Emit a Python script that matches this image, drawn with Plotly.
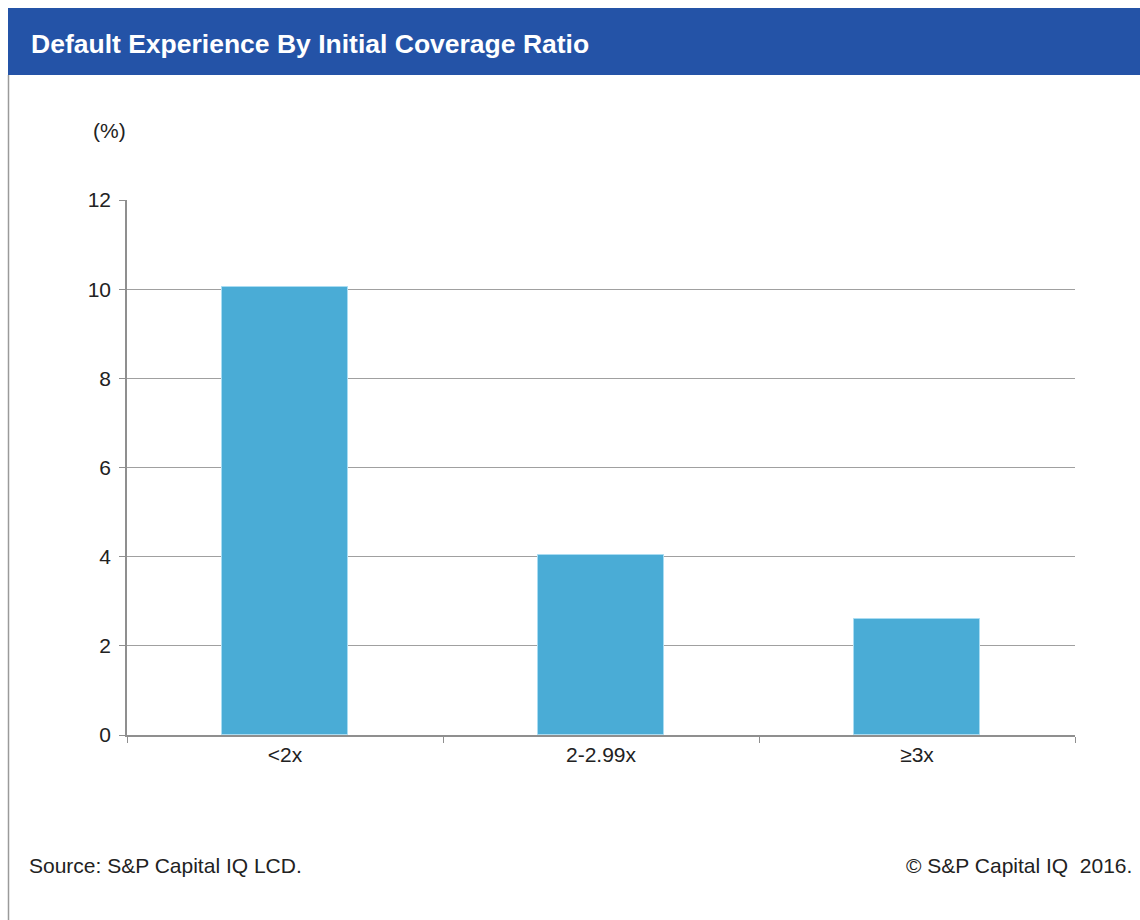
import plotly.graph_objects as go

# Default rates by initial coverage ratio bucket
categories = ["<2x", "2-2.99x", "≥3x"]
default_rate = [10.05, 4.04, 2.6]
y_ticks = [0, 2, 4, 6, 8, 10, 12]

W, H = 1140, 920
ML, MR, MT, MB = 127, 65, 200, 185
PW, PH = W - ML - MR, H - MT - MB


def px(x):
    return (x - ML) / PW


def py(y):
    return (H - MB - y) / PH


FONT = "Liberation Sans, Arial, sans-serif"
GRID = "#a0a0a0"
AXIS = "#8f8f8f"

fig = go.Figure(
    go.Bar(
        x=categories,
        y=default_rate,
        width=0.4,
        marker=dict(color="#4aacd6", line=dict(color="#a9dcf2", width=1)),
    )
)

fig.update_layout(
    width=W,
    height=H,
    margin=dict(l=ML, r=MR, t=MT, b=MB),
    paper_bgcolor="white",
    plot_bgcolor="white",
    showlegend=False,
    font=dict(family=FONT, size=21, color="#222222"),
    bargap=0,
    xaxis=dict(
        type="category",
        range=[-0.5, 2.5],
        tickson="boundaries",
        ticks="outside",
        ticklen=6,
        tickcolor=AXIS,
        showline=True,
        linecolor=AXIS,
        linewidth=1.5,
        showgrid=False,
        tickfont=dict(size=21, color="#222222"),
        fixedrange=True,
    ),
    yaxis=dict(
        range=[0, 12],
        tickvals=y_ticks,
        ticks="outside",
        ticklen=6,
        tickcolor=AXIS,
        showline=True,
        linecolor=AXIS,
        linewidth=1.5,
        showgrid=True,
        gridcolor=GRID,
        gridwidth=1.3,
        zeroline=False,
        tickfont=dict(size=21, color="#222222"),
        ticklabelstandoff=4,
        fixedrange=True,
    ),
    shapes=[
        # header band
        dict(type="rect", xref="paper", yref="paper",
             x0=px(8), x1=px(1140), y0=py(75), y1=py(8),
             fillcolor="#2453a7", line=dict(width=0), layer="below"),
        # left frame edge
        dict(type="line", xref="paper", yref="paper",
             x0=px(8.5), x1=px(8.5), y0=py(75), y1=py(920),
             line=dict(color="#9a9a9a", width=1.5)),
    ],
    annotations=[
        dict(text="Default Experience By Initial Coverage Ratio",
             xref="paper", yref="paper", x=px(29), y=py(44),
             xanchor="left", yanchor="middle", showarrow=False,
             font=dict(family=FONT, size=26.5, color="white", weight="bold")),
        dict(text="(%)", xref="paper", yref="paper", x=px(91), y=py(130),
             xanchor="left", yanchor="middle", showarrow=False,
             font=dict(size=21, color="#222222")),
        dict(text="Source: S&P Capital IQ LCD.", xref="paper", yref="paper",
             x=px(27), y=py(865), xanchor="left", yanchor="middle",
             showarrow=False, font=dict(size=21, color="#222222")),
        dict(text="© S&P Capital IQ  2016.", xref="paper", yref="paper",
             x=px(1134), y=py(865), xanchor="right", yanchor="middle",
             showarrow=False, font=dict(size=21, color="#222222")),
    ],
)

fig.write_html("out.html")
